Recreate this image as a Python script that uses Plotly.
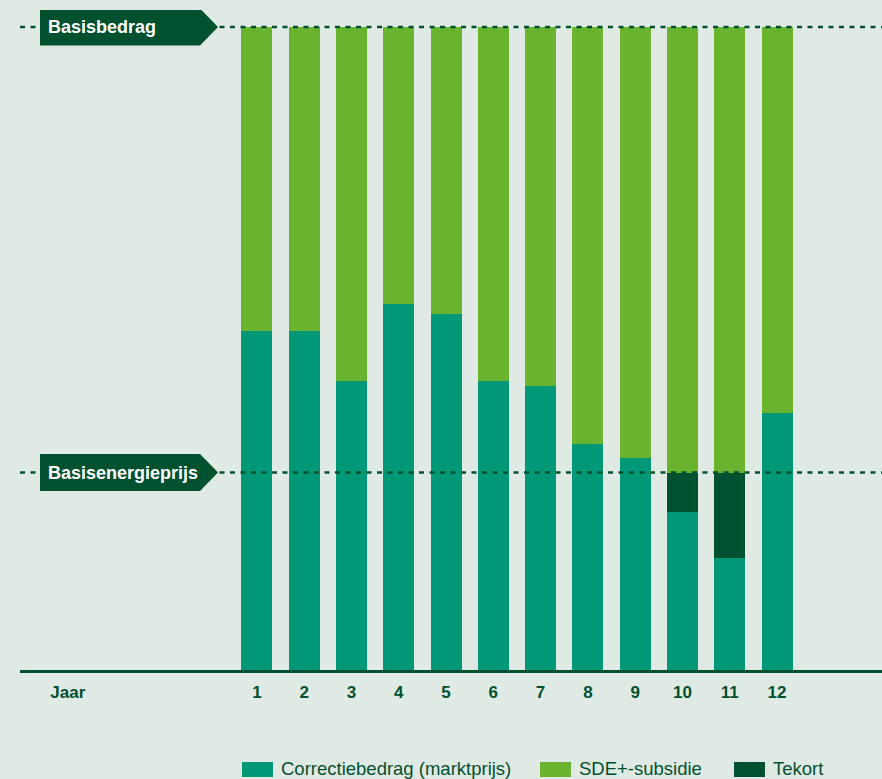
import plotly.graph_objects as go

# ---- data ----
jaren = ["1", "2", "3", "4", "5", "6", "7", "8", "9", "10", "11", "12"]
x_pos = [1, 2, 3, 4, 5, 6, 7, 8, 9, 10, 11, 12]
correctiebedrag = [52.8, 52.8, 44.9, 57.0, 55.3, 44.9, 44.1, 35.2, 32.9, 24.6, 17.4, 39.9]
tekort = [0, 0, 0, 0, 0, 0, 0, 0, 0, 6.1, 13.3, 0]
sde_subsidie = [47.2, 47.2, 55.1, 43.0, 44.7, 55.1, 55.9, 64.8, 67.1, 69.3, 69.3, 60.1]
basisbedrag = 100
basisenergieprijs = 30.7
tick_vals = [-3] + x_pos
tick_text = ["Jaar"] + jaren

BG = "#e0eae4"
TEAL = "#009877"
LIGHT = "#69b32e"
DARK = "#00512f"
FONT = "Liberation Sans, Arial, sans-serif"

W, H = 882, 779
ML, MR, MT, MB = 20, 0, 10, 109
PW = W - ML - MR
PH = H - MT - MB


def px(p):
    return (p - ML) / PW


def py(p):
    return (H - MB - p) / PH


fig = go.Figure()
fig.add_bar(x=x_pos, y=correctiebedrag, name="Correctiebedrag (marktprijs)",
            marker=dict(color=TEAL, line=dict(width=0)), width=0.656)
fig.add_bar(x=x_pos, y=tekort, name="Tekort",
            marker=dict(color=DARK, line=dict(width=0)), width=0.656)
fig.add_bar(x=x_pos, y=sde_subsidie, name="SDE+-subsidie",
            marker=dict(color=LIGHT, line=dict(width=0)), width=0.656)

shapes = []
annotations = []
for val, label in [(basisbedrag, "Basisbedrag"), (basisenergieprijs, "Basisenergieprijs")]:
    shapes.append(dict(type="line", xref="paper", yref="y", x0=0, x1=1, y0=val, y1=val,
                       line=dict(color=DARK, width=2.5, dash="5px,5.5px"), layer="above"))
    shapes.append(dict(type="path", xref="paper", yref="y", xsizemode="pixel", ysizemode="pixel",
                       xanchor=0, yanchor=val,
                       path="M 20,-18.5 L 180,-18.5 L 198,0 L 180,18.5 L 20,18.5 Z",
                       fillcolor=DARK, line=dict(width=0), layer="above"))
    annotations.append(dict(text="<b>%s</b>" % label, xref="paper", yref="y", x=0, y=val,
                            xshift=26, xanchor="left", yanchor="middle", showarrow=False,
                            font=dict(family=FONT, size=18, color="white")))

# manual legend
legend_items = [("Correctiebedrag (marktprijs)", TEAL, 242),
                ("SDE+-subsidie", LIGHT, 540),
                ("Tekort", DARK, 734)]
for name, col, x0 in legend_items:
    shapes.append(dict(type="rect", xref="paper", yref="paper",
                       x0=px(x0), x1=px(x0 + 31), y0=py(777), y1=py(762),
                       fillcolor=col, line=dict(width=0)))
    annotations.append(dict(text=name, xref="paper", yref="paper", x=px(x0 + 37), y=py(768.5),
                            xanchor="left", yanchor="middle", showarrow=False,
                            font=dict(family=FONT, size=18.5, color=DARK)))

fig.update_layout(
    width=W, height=H,
    margin=dict(l=ML, r=MR, t=MT, b=MB),
    paper_bgcolor=BG, plot_bgcolor=BG,
    barmode="stack", bargap=0,
    showlegend=False,
    shapes=shapes, annotations=annotations,
    xaxis=dict(range=[-4.01, 14.22], tickvals=tick_vals, ticktext=tick_text,
               showgrid=False, zeroline=False, showline=True, linecolor=DARK, linewidth=3,
               ticks="", ticklabelstandoff=5,
               tickfont=dict(family=FONT, size=17, color=DARK, weight="bold"),
               fixedrange=True),
    yaxis=dict(range=[0, 102.65], visible=False, showgrid=False, zeroline=False, fixedrange=True),
)

fig.write_html("out.html", config={"displayModeBar": False},
               post_script="document.body.style.margin='0';document.body.style.background='%s';" % BG)
